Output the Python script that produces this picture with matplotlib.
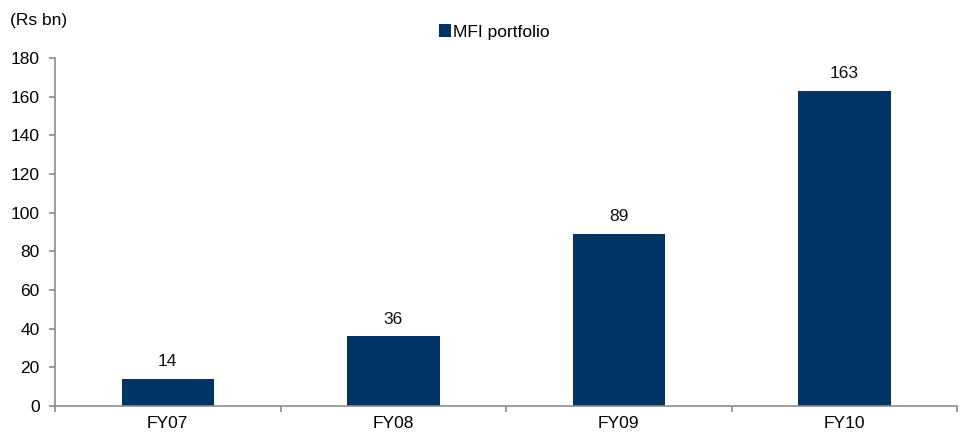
import numpy as np
import matplotlib.pyplot as plt

years = ['FY07', 'FY08', 'FY09', 'FY10']
portfolio = [14, 36, 89, 163]

plt.rcParams['font.family'] = ['Liberation Sans', 'DejaVu Sans']
plt.rcParams['font.size'] = 12.5

navy = '#003366'
grey = '#8c8c8c'

fig = plt.figure(figsize=(9.6, 4.34), dpi=100)
ax = fig.add_axes([0.0573, 0.0645, 0.9397, 0.8015])

x = np.arange(len(years))
bars = ax.bar(x, portfolio, width=0.41, color=navy, label='MFI portfolio', zorder=2)
for xi, v in zip(x, portfolio):
    ax.text(xi, v + 5, str(v), ha='center', va='bottom', color='#111111')

ax.set_xlim(-0.5, len(years) - 0.5)
ax.set_ylim(0, 180)
ax.set_yticks(range(0, 181, 20))
ax.set_xticks(x)
ax.set_xticklabels(years)
# category boundary ticks on the x axis
ax.set_xticks(np.arange(-0.5, len(years), 1.0), minor=True)
ax.tick_params(axis='x', which='major', length=0, pad=7)
ax.tick_params(axis='x', which='minor', length=4.5, color=grey, width=1.2, direction='out')
ax.tick_params(axis='y', length=4.5, color=grey, width=1.2, pad=6.5)

for side in ['top', 'right']:
    ax.spines[side].set_visible(False)
for side in ['left', 'bottom']:
    ax.spines[side].set_color(grey)
    ax.spines[side].set_linewidth(1.2)

ax.text(-0.05, 1.109, '(Rs bn)', transform=ax.transAxes, ha='left', va='center')

leg = ax.legend(loc='center', bbox_to_anchor=(0.487, 1.075), frameon=False,
                handlelength=0.7, handleheight=0.7, handletextpad=0.1)

fig.savefig('out.png', dpi=100)
